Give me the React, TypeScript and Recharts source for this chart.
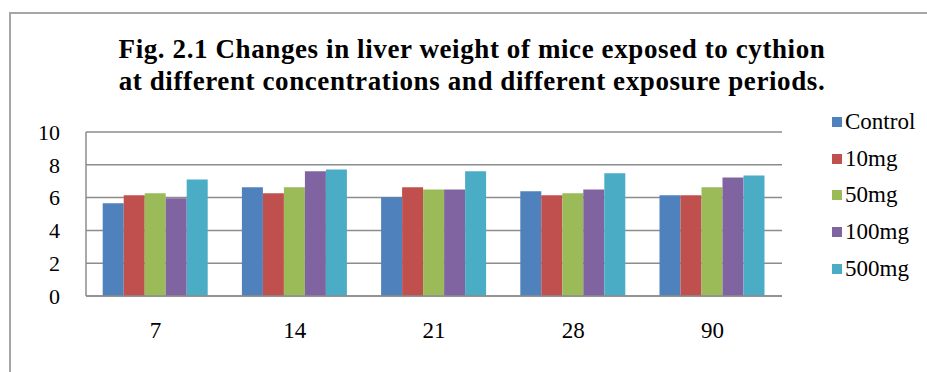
import React from 'react';
import { BarChart, Bar, XAxis, YAxis, CartesianGrid } from 'recharts';

const days = ['7', '14', '21', '28', '90'];
const control = [5.65, 6.63, 6.02, 6.38, 6.14];
const mg10 = [6.14, 6.26, 6.63, 6.14, 6.14];
const mg50 = [6.26, 6.63, 6.5, 6.26, 6.63];
const mg100 = [5.96, 7.6, 6.5, 6.5, 7.23];
const mg500 = [7.11, 7.72, 7.6, 7.48, 7.35];
const yTicks = [0, 2, 4, 6, 8, 10];
const seriesNames = ['Control', '10mg', '50mg', '100mg', '500mg'];
const seriesColors = ['#4F81BD', '#C0504D', '#9BBB59', '#8064A2', '#4BACC6'];
const titleLines = [
  'Fig. 2.1 Changes in liver weight of mice exposed to cythion',
  'at different concentrations and different exposure periods.',
];

const seriesValues = [control, mg10, mg50, mg100, mg500];
const data = days.map((d, i) => {
  const row: Record<string, string | number> = { day: d };
  seriesNames.forEach((n, s) => {
    row[n] = seriesValues[s][i];
  });
  return row;
});

const font = '"Liberation Serif", "Times New Roman", serif';

export default function App() {
  return (
    <div style={{ position: 'absolute', left: 0, top: 0, width: 927, height: 372, background: '#fff', overflow: 'hidden' }}>
      <div
        style={{
          position: 'absolute',
          left: 9,
          top: 12,
          width: 940,
          height: 400,
          borderTop: '2px solid #a6a6a6',
          borderLeft: '2px solid #a6a6a6',
        }}
      />
      <div
        style={{
          position: 'absolute',
          left: 0,
          top: 33,
          width: 944,
          textAlign: 'center',
          fontFamily: font,
          fontWeight: 'bold',
          fontSize: 27,
          letterSpacing: 0.6,
          lineHeight: '32px',
          color: '#000',
        }}
      >
        {titleLines.map((t) => (
          <div key={t}>{t}</div>
        ))}
      </div>
      <div style={{ position: 'absolute', left: 0, top: 0 }}>
        <BarChart
          width={927}
          height={372}
          data={data}
          margin={{ top: 132, right: 145, bottom: 46, left: 0 }}
          barCategoryGap="12%"
          barGap={0}
        >
          <CartesianGrid vertical={false} stroke="#8c8c8c" strokeWidth={1.5} />
          <XAxis
            dataKey="day"
            height={30}
            tickLine={false}
            tickSize={0}
            tickMargin={26}
            axisLine={{ stroke: '#8c8c8c', strokeWidth: 1.5 }}
            tick={{ fill: '#000', fontFamily: font, fontSize: 23 }}
          />
          <YAxis
            width={86}
            domain={[0, 10]}
            ticks={yTicks}
            interval={0}
            tickLine={false}
            tickSize={0}
            tickMargin={26}
            axisLine={{ stroke: '#8c8c8c', strokeWidth: 1.5 }}
            tick={{ fill: '#000', fontFamily: font, fontSize: 22 }}
          />
          {seriesNames.map((n, i) => (
            <Bar key={n} dataKey={n} fill={seriesColors[i]} isAnimationActive={false} />
          ))}
        </BarChart>
      </div>
      <div
        style={{
          position: 'absolute',
          left: 832,
          top: 104,
          fontFamily: font,
          fontSize: 23,
          color: '#000',
        }}
      >
        {seriesNames.map((n, i) => (
          <div key={n} style={{ display: 'flex', alignItems: 'center', height: 36.6 }}>
            <div style={{ width: 10, height: 10, background: seriesColors[i], marginRight: 3 }} />
            <span>{n}</span>
          </div>
        ))}
      </div>
    </div>
  );
}
